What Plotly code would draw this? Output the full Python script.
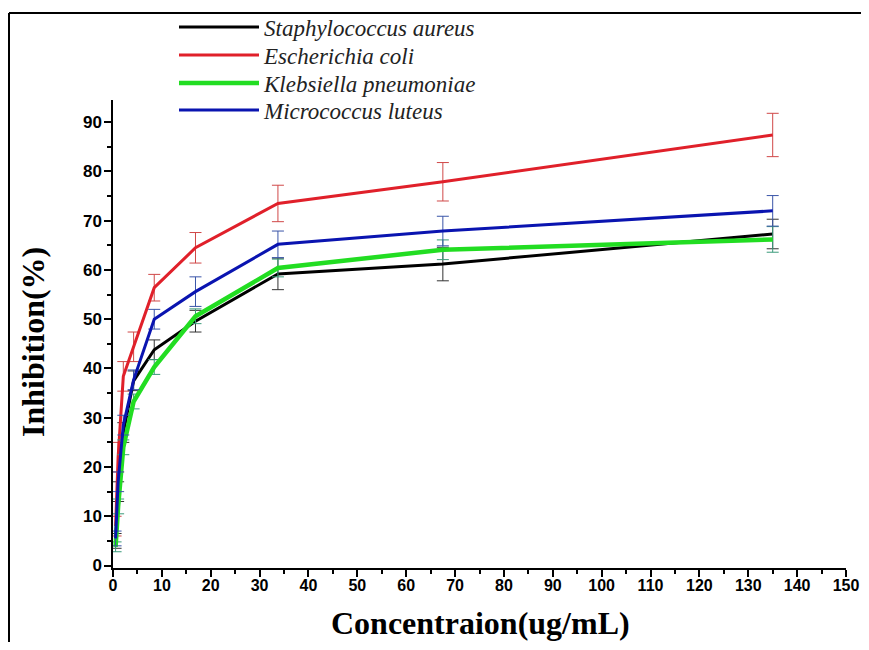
import plotly.graph_objects as go

conc = [0.53, 1.05, 2.11, 4.22, 8.44, 16.88, 33.75, 67.5, 135]

s_aureus = [5.0, 15.0, 27.0, 37.5, 43.8, 49.6, 59.2, 61.2, 67.3]
s_aureus_err = [1.5, 2.0, 2.0, 2.0, 2.0, 2.2, 3.2, 3.4, 3.0]

e_coli = [8.0, 22.0, 38.4, 44.4, 56.4, 64.5, 73.5, 77.9, 87.4]
e_coli_err = [2.0, 3.0, 3.0, 3.0, 2.7, 3.1, 3.7, 3.9, 4.4]

k_pneu = [3.8, 12.0, 24.0, 33.3, 40.3, 50.6, 60.4, 64.1, 66.2]
k_pneu_err = [1.0, 1.5, 1.5, 1.5, 1.5, 1.5, 1.8, 2.0, 2.6]

m_luteus = [5.5, 17.0, 28.5, 37.7, 50.0, 55.6, 65.2, 67.9, 72.0]
m_luteus_err = [1.5, 2.0, 2.0, 2.0, 2.0, 3.0, 2.7, 3.0, 3.1]

x_title = "Concentraion(ug/mL)"
y_title = "Inhibition(%)"

series = [
    ("Staphylococcus aureus", s_aureus, s_aureus_err, "#000000", "#333333", 3),
    ("Escherichia coli", e_coli, e_coli_err, "#e0202a", "#d04848", 3),
    ("Klebsiella pneumoniae", k_pneu, k_pneu_err, "#22dd22", "#3a9a7a", 4.5),
    ("Micrococcus luteus", m_luteus, m_luteus_err, "#0a14b0", "#3a55a8", 3),
]

# page offset of the plotly div (default body margin)
OFF = 8
W, H = 853, 634
L, R, T, B = 105, 15, 92, 74
pw, ph = W - L - R, H - T - B


def px_x(p):
    return (p - OFF - L) / pw


def px_y(p):
    return (H - B - (p - OFF)) / ph


def cont_x(p):
    return (p - OFF) / W


def cont_y(p):
    return 1 - (p - OFF) / H


fig = go.Figure()
legend_names = ["legend", "legend2", "legend3", "legend4"]
for i, (name, ys, errs, col, ecol, w) in enumerate(series):
    fig.add_trace(go.Scatter(
        x=conc, y=ys, mode="lines", name=name,
        line=dict(color=col, width=w),
        error_y=dict(type="data", array=errs, visible=True,
                     color=ecol, thickness=1, width=6),
        legend=legend_names[i],
    ))

legfont = dict(family="Liberation Serif, Times New Roman", size=23,
               color="#222", style="italic")
legend_mid = [27, 55, 83, 110]  # centre of each legend entry (page px)
leg_layout = {}
for i, lname in enumerate(legend_names):
    leg_layout[lname] = dict(
        xref="container", yref="container",
        x=cont_x(174), y=cont_y(legend_mid[i]), xanchor="left", yanchor="middle",
        font=legfont, bgcolor="rgba(0,0,0,0)", itemwidth=80,
    )

tickfont = dict(family="Liberation Sans, Arial", size=16, color="#000", weight="bold")
titlefont = dict(family="Liberation Serif, Times New Roman", size=32, color="#000")

fig.update_layout(
    width=W, height=H,
    margin=dict(l=L, r=R, t=T, b=B, autoexpand=False),
    paper_bgcolor="white", plot_bgcolor="white",
    showlegend=True,
    **leg_layout,
    xaxis=dict(
        range=[0, 150], tickmode="array", automargin=False,
        tickvals=list(range(0, 151, 10)),
        ticktext=[str(v) for v in range(0, 151, 10)],
        showgrid=False, zeroline=False,
        showline=True, linecolor="#000", linewidth=1.5,
        ticks="outside", ticklen=7, tickwidth=1.5, tickcolor="#000",
        minor=dict(ticks="outside", ticklen=4, tickwidth=1.5, tickcolor="#000", dtick=5),
        tickfont=tickfont, ticklabelstandoff=-5, ticklabeloverflow="allow",
    ),
    yaxis=dict(
        range=[-0.5, 94.5], tickmode="array", automargin=False,
        tickvals=list(range(0, 91, 10)),
        ticktext=[str(v) for v in range(0, 91, 10)],
        showgrid=False, zeroline=False,
        showline=True, linecolor="#000", linewidth=1.5,
        ticks="outside", ticklen=7, tickwidth=1.5, tickcolor="#000",
        minor=dict(ticks="outside", ticklen=4, tickwidth=1.5, tickcolor="#000", dtick=5),
        tickfont=dict(family="Liberation Sans, Arial", size=17, color="#000", weight="bold"),
        ticklabelstandoff=-1,
    ),
)

# axis titles
fig.add_annotation(text="<b>" + x_title + "</b>", xref="paper", yref="paper",
                   x=px_x(480), y=px_y(623), xanchor="center", yanchor="middle",
                   showarrow=False, font=titlefont)
fig.add_annotation(text="<b>" + y_title + "</b>", xref="paper", yref="paper",
                   x=px_x(33), y=px_y(342), xanchor="center", yanchor="middle",
                   textangle=-90, showarrow=False, font=titlefont)

# outer frame lines (top and left, as in the reference)
fig.add_shape(type="line", xref="paper", yref="paper",
              x0=px_x(9), x1=px_x(869), y0=px_y(13), y1=px_y(13),
              line=dict(color="#000", width=2))
fig.add_shape(type="line", xref="paper", yref="paper",
              x0=px_x(9), x1=px_x(9), y0=px_y(13), y1=px_y(650),
              line=dict(color="#000", width=2))

fig.write_html("out.html")
